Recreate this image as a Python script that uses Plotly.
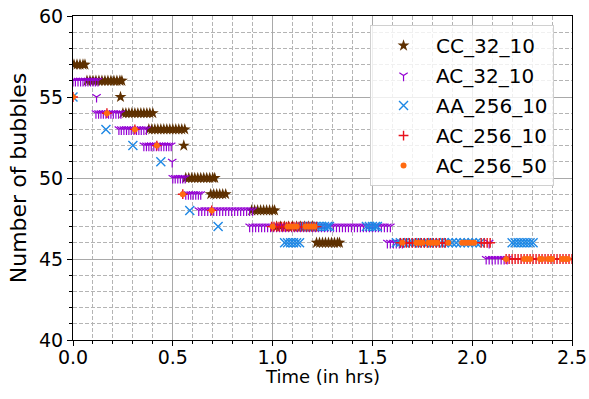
import plotly.graph_objects as go

# ---- data: (bubble count, list of sample times in hrs) per series ----
cc_32_10 = [
    (57, [0.005, 0.02, 0.035, 0.05, 0.06]),
    (56, [0.07, 0.085, 0.10, 0.115, 0.13, 0.145, 0.16, 0.175, 0.19, 0.205, 0.22, 0.235, 0.245]),
    (55, [0.238]),
    (54, [0.25, 0.265, 0.28, 0.295, 0.31, 0.325, 0.34, 0.355, 0.37, 0.385, 0.40]),
    (53, [0.38, 0.395, 0.41, 0.425, 0.44, 0.455, 0.47, 0.485, 0.50, 0.515, 0.53, 0.545, 0.56]),
    (52, [0.555]),
    (50, [0.565, 0.58, 0.595, 0.61, 0.625, 0.64, 0.655, 0.67, 0.685, 0.70, 0.71]),
    (49, [0.69, 0.705, 0.72, 0.735, 0.75, 0.765]),
    (48, [0.895, 0.91, 0.925, 0.94, 0.955, 0.97, 0.985, 1.0, 1.01]),
    (47, [1.02, 1.04, 1.06, 1.08, 1.10, 1.12, 1.14, 1.16, 1.18, 1.20]),
    (46, [1.22, 1.235, 1.25, 1.265, 1.28, 1.295, 1.31, 1.325, 1.335]),
]

ac_32_10 = [
    (56, [0.0, 0.012, 0.025, 0.038, 0.05, 0.062, 0.075, 0.088, 0.10, 0.112, 0.125]),
    (55, [0.118]),
    (54, [0.115, 0.128, 0.14, 0.152, 0.165, 0.178, 0.19, 0.202, 0.215, 0.228, 0.24]),
    (53, [0.23, 0.242, 0.255, 0.268, 0.28, 0.292, 0.305, 0.318, 0.33, 0.342, 0.355, 0.368]),
    (52, [0.355, 0.368, 0.38, 0.392, 0.405, 0.418, 0.43, 0.442, 0.455, 0.468, 0.48, 0.492]),
    (51, [0.497]),
    (50, [0.50, 0.512, 0.525, 0.538, 0.55, 0.562]),
    (49, [0.565, 0.578, 0.59, 0.602, 0.615, 0.628, 0.64]),
    (48, [0.63, 0.645, 0.66, 0.675, 0.69, 0.705, 0.72, 0.735, 0.75, 0.765, 0.78, 0.795,
          0.81, 0.825, 0.84, 0.855, 0.87, 0.885, 0.90]),
    (47, [0.885, 0.90, 0.915, 0.93, 0.945, 0.96, 0.975, 0.99, 1.005, 1.02, 1.035, 1.05,
          1.065, 1.08, 1.095, 1.11, 1.125, 1.14, 1.155, 1.17, 1.185, 1.20, 1.215, 1.23,
          1.245, 1.26, 1.275, 1.29, 1.305, 1.32, 1.335, 1.35, 1.365, 1.38, 1.395, 1.41,
          1.425, 1.44, 1.455, 1.47, 1.485, 1.50, 1.515, 1.53, 1.545, 1.56, 1.575, 1.59]),
    (46, [1.575, 1.59, 1.605, 1.62, 1.635, 1.65, 2.085]),
    (45, [2.07, 2.085, 2.10, 2.115, 2.13, 2.145, 2.16, 2.175]),
]

aa_256_10 = [
    (55, [0.0]),
    (53, [0.165]),
    (52, [0.30]),
    (51, [0.44]),
    (48, [0.585]),
    (47, [0.727]),
    (46, [1.06, 1.075, 1.09, 1.105, 1.12, 1.135]),
    (47, [1.14, 1.155, 1.17, 1.185, 1.20, 1.215, 1.23, 1.245, 1.26, 1.275, 1.285]),
    (47, [1.47, 1.485, 1.50, 1.515, 1.525]),
    (46, [1.62, 1.64, 1.66, 1.68, 1.70, 1.72, 1.74, 1.76, 1.78, 1.80, 1.82, 1.84, 1.86,
          1.88, 1.90, 1.92, 1.94, 1.96, 1.98, 2.00, 2.02, 2.04]),
    (46, [2.20, 2.215, 2.23, 2.245, 2.26, 2.275, 2.29, 2.305]),
]

ac_256_10 = [
    (55, [0.0]),
    (54, [0.17]),
    (53, [0.31]),
    (52, [0.42]),
    (49, [0.55]),
    (48, [0.695]),
    (47, [0.995, 1.007, 1.02, 1.032, 1.045, 1.057, 1.07, 1.082, 1.095, 1.107, 1.12, 1.132,
          1.145, 1.157, 1.17, 1.182, 1.195, 1.207, 1.22]),
    (46, [1.64, 1.655, 1.67, 1.685, 1.70, 1.715, 1.73, 1.745, 1.76, 1.775, 1.79, 1.805,
          1.82, 1.835, 1.85, 1.865, 2.045, 2.06, 2.075, 2.09]),
    (45, [2.17, 2.185, 2.20, 2.215, 2.23, 2.245, 2.26, 2.275, 2.29, 2.305, 2.32, 2.335,
          2.35, 2.365, 2.38, 2.395, 2.41, 2.425, 2.44, 2.455, 2.47, 2.485, 2.5]),
]

ac_256_50 = [
    (55, [0.0]),
    (54, [0.17]),
    (53, [0.31]),
    (52, [0.42]),
    (49, [0.55]),
    (48, [0.695]),
    (47, [1.0, 1.075, 1.09, 1.105, 1.12, 1.165, 1.18, 1.195, 1.21]),
    (46, [1.65, 1.72, 1.735, 1.75, 1.78, 1.795, 1.81, 1.825, 1.88, 1.95, 1.965, 1.98,
          1.995, 2.01]),
    (45, [2.17, 2.26, 2.275, 2.29, 2.34, 2.35, 2.38, 2.39, 2.40, 2.45, 2.465, 2.48]),
]

series_names = ["CC_32_10", "AC_32_10", "AA_256_10", "AC_256_10", "AC_256_50"]
series_data = [cc_32_10, ac_32_10, aa_256_10, ac_256_10, ac_256_50]
series_colors = ["#5e3000", "#9400d3", "#1e88e5", "#e8121c", "#ff6a10"]
series_symbols = ["star", "y-down", "x-thin", "cross-thin", "circle"]
series_sizes = [9, 7, 9, 7, 6]
series_lw = [0, 1.2, 1.4, 1.4, 0]


def flatten(runs):
    xs, ys = [], []
    for count, times in runs:
        for t in times:
            xs.append(t)
            ys.append(count)
    return xs, ys


fig = go.Figure()
for i, (name, runs) in enumerate(zip(series_names, series_data)):
    xs, ys = flatten(runs)
    fig.add_trace(go.Scatter(
        x=xs, y=ys, mode="markers", name=name, legendgroup=name,
        marker=dict(symbol=series_symbols[i], size=series_sizes[i],
                    color=series_colors[i],
                    line=dict(color=series_colors[i], width=series_lw[i])),
    ))

font_family = "DejaVu Sans, Verdana, sans-serif"
grid_major = "#a9a9a9"
grid_minor = "#b4b4b4"

fig.update_layout(
    width=589, height=399,
    margin=dict(l=73, r=17, t=16, b=59),
    paper_bgcolor="white", plot_bgcolor="white",
    font=dict(family=font_family, size=18, color="black"),
    showlegend=True,
    legend=dict(
        x=0.964, y=0.972, xanchor="right", yanchor="top",
        bgcolor="rgba(255,255,255,0.8)", bordercolor="#d0d0d0", borderwidth=1,
        font=dict(size=20, family=font_family),
        tracegroupgap=1, itemwidth=55,
    ),
    xaxis=dict(
        range=[0, 2.5], dtick=0.5, tick0=0, tickformat=".1f", automargin=False,
        showgrid=True, gridcolor=grid_major, gridwidth=1.2,
        showline=True, linecolor="black", linewidth=1.2, mirror=True,
        ticks="outside", ticklen=5, tickcolor="black", zeroline=False,
        tickfont=dict(size=19), ticklabelstandoff=-5,
        minor=dict(dtick=0.1, showgrid=True, gridcolor=grid_minor, griddash="4px,2px",
                   gridwidth=1, ticks="outside", ticklen=3, tickcolor="black"),
    ),
    yaxis=dict(
        range=[40, 60], dtick=5, tick0=40, automargin=False,
        showgrid=True, gridcolor=grid_major, gridwidth=1.2,
        showline=True, linecolor="black", linewidth=1.2, mirror=True,
        ticks="outside", ticklen=5, tickcolor="black", zeroline=False,
        tickfont=dict(size=19),
        title=dict(text="Number of bubbles", standoff=6),
        minor=dict(dtick=1, showgrid=True, gridcolor=grid_minor, griddash="4px,2px",
                   gridwidth=1, ticks="outside", ticklen=3, tickcolor="black"),
    ),
    annotations=[dict(
        text="Time (in hrs)", xref="paper", yref="paper", x=0.5, y=-0.114,
        xanchor="center", yanchor="middle", showarrow=False,
        font=dict(size=18, family=font_family, color="black"),
    )],
)

fig.write_html("out.html")
